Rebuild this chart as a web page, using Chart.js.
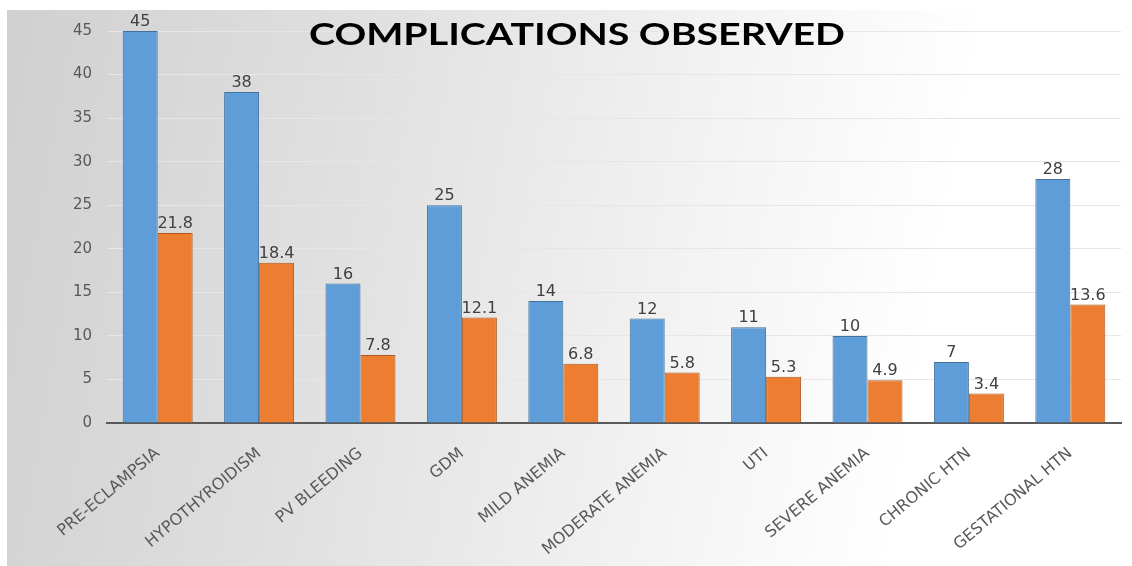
<!DOCTYPE html>
<html lang="en">
<head>
<meta charset="UTF-8">
<title>Complications Observed</title>
<script src="https://cdn.jsdelivr.net/npm/chart.js"></script>
<style>
    html, body {
        margin: 0;
        padding: 0;
        background: #ffffff;
    }
    .chart-box {
        position: absolute;
        left: 7px;
        top: 10px;
        width: 1125px;
        height: 556px;
        background: linear-gradient(100deg, #d0d0d0 0%, #e0e0e0 30%, #f3f3f3 60%, #ffffff 80%);
    }
    .chart-wrap {
        position: absolute;
        left: 0;
        top: 0;
        width: 1132px;
        height: 566px;
    }
</style>
</head>
<body>
<div class="chart-box"></div>
<div class="chart-wrap"><canvas id="complicacoes"></canvas></div>
<script>
    // dados do gráfico
    const categorias = ['PRE-ECLAMPSIA', 'HYPOTHYROIDISM', 'PV BLEEDING', 'GDM', 'MILD ANEMIA',
        'MODERATE ANEMIA', 'UTI', 'SEVERE ANEMIA', 'CHRONIC HTN', 'GESTATIONAL HTN'];
    const serieA = [45, 38, 16, 25, 14, 12, 11, 10, 7, 28];
    const serieB = [21.8, 18.4, 7.8, 12.1, 6.8, 5.8, 5.3, 4.9, 3.4, 13.6];
    const ticksY = [0, 5, 10, 15, 20, 25, 30, 35, 40, 45];
    const titulo = 'COMPLICATIONS OBSERVED';

    // rótulos de valor acima das barras
    const rotulosBarras = {
        id: 'rotulosBarras',
        afterDatasetsDraw(chart) {
            const ctx = chart.ctx;
            ctx.save();
            ctx.font = '16px "DejaVu Sans"';
            ctx.fillStyle = '#404040';
            ctx.textAlign = 'center';
            ctx.textBaseline = 'bottom';
            chart.data.datasets.forEach((ds, i) => {
                chart.getDatasetMeta(i).data.forEach((bar, j) => {
                    ctx.fillText(String(ds.data[j]), bar.x, bar.y - 1);
                });
            });
            ctx.restore();
        }
    };

    // título dentro da área do gráfico (esticado na horizontal)
    const tituloInterno = {
        id: 'tituloInterno',
        afterDraw(chart) {
            const ctx = chart.ctx;
            ctx.save();
            ctx.font = 'bold 30px Lato';
            ctx.fillStyle = '#000000';
            ctx.textAlign = 'center';
            ctx.textBaseline = 'middle';
            const w = ctx.measureText(titulo).width;
            ctx.translate(577, 35);
            ctx.scale(536 / w, 1);
            ctx.fillText(titulo, 0, 0);
            ctx.restore();
        }
    };

    new Chart(document.getElementById('complicacoes'), {
        type: 'bar',
        data: {
            labels: categorias,
            datasets: [{
                data: serieA,
                backgroundColor: '#5f9dd8',
                borderColor: '#41719c',
                borderWidth: 1,
                categoryPercentage: 0.69,
                barPercentage: 1.0
            }, {
                data: serieB,
                backgroundColor: '#ed7d31',
                borderColor: '#ae5a21',
                borderWidth: 1,
                categoryPercentage: 0.69,
                barPercentage: 1.0
            }]
        },
        options: {
            responsive: true,
            maintainAspectRatio: false,
            animation: false,
            layout: {
                padding: { top: 31, right: 11, left: 0, bottom: 0 }
            },
            plugins: {
                legend: { display: false },
                tooltip: { enabled: false },
                title: { display: false }
            },
            scales: {
                x: {
                    grid: { display: false },
                    border: { color: '#595959', width: 2 },
                    ticks: {
                        color: '#595959',
                        font: { family: '"DejaVu Sans"', size: 16 },
                        minRotation: 40,
                        maxRotation: 40,
                        padding: 13,
                        autoSkip: false
                    },
                    afterFit(scale) { scale.height = 143; }
                },
                y: {
                    min: 0,
                    max: 45,
                    afterBuildTicks(scale) {
                        scale.ticks = ticksY.map(v => ({ value: v }));
                    },
                    grid: { color: '#e6e6e6', lineWidth: 1, drawTicks: false },
                    border: { display: false },
                    ticks: {
                        color: '#595959',
                        font: { family: '"DejaVu Sans"', size: 15 },
                        padding: 15
                    },
                    afterFit(scale) { scale.width = 107; }
                }
            }
        },
        plugins: [rotulosBarras, tituloInterno]
    });
</script>
</body>
</html>
